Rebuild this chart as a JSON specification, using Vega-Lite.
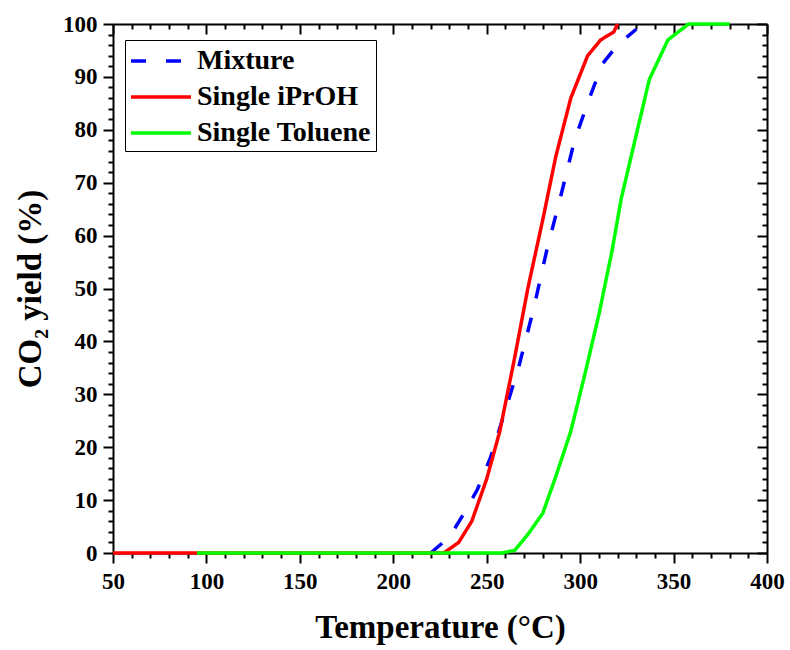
{
  "$schema": "https://vega.github.io/schema/vega-lite/v6.json",
  "width": 654,
  "height": 529,
  "autosize": "none",
  "padding": {"left": 113, "top": 24, "right": 23, "bottom": 97},
  "background": "white",
  "config": {
    "font": "Liberation Serif",
    "view": {"stroke": null},
    "axis": {
      "domainColor": "black", "domainWidth": 2,
      "tickColor": "black", "tickWidth": 2,
      "labelFont": "Liberation Serif", "labelFontWeight": "bold", "labelFontSize": 23, "labelColor": "black",
      "labelFlush": false, "labelOverlap": false,
      "titleFont": "Liberation Serif", "titleFontWeight": "bold", "titleFontSize": 33, "titleColor": "black",
      "grid": false
    },
    "legend": {
      "labelFont": "Liberation Serif", "labelFontWeight": "bold", "labelFontSize": 28, "labelColor": "black", "labelLimit": 400
    }
  },
  "data": {"values": [
    {"series": "Mixture", "temp": 220, "yield": 0},
    {"series": "Mixture", "temp": 230, "yield": 3},
    {"series": "Mixture", "temp": 237, "yield": 7},
    {"series": "Mixture", "temp": 245, "yield": 12},
    {"series": "Mixture", "temp": 252, "yield": 18},
    {"series": "Mixture", "temp": 260, "yield": 27},
    {"series": "Mixture", "temp": 267, "yield": 35},
    {"series": "Mixture", "temp": 275, "yield": 46},
    {"series": "Mixture", "temp": 282, "yield": 57},
    {"series": "Mixture", "temp": 290, "yield": 68},
    {"series": "Mixture", "temp": 297, "yield": 78},
    {"series": "Mixture", "temp": 305, "yield": 86},
    {"series": "Mixture", "temp": 312, "yield": 92.5},
    {"series": "Mixture", "temp": 320, "yield": 96},
    {"series": "Mixture", "temp": 330, "yield": 99},
    {"series": "Single iPrOH", "temp": 50, "yield": 0},
    {"series": "Single iPrOH", "temp": 227, "yield": 0},
    {"series": "Single iPrOH", "temp": 235, "yield": 2},
    {"series": "Single iPrOH", "temp": 242, "yield": 6},
    {"series": "Single iPrOH", "temp": 250, "yield": 14},
    {"series": "Single iPrOH", "temp": 257, "yield": 23},
    {"series": "Single iPrOH", "temp": 265, "yield": 37},
    {"series": "Single iPrOH", "temp": 272, "yield": 50},
    {"series": "Single iPrOH", "temp": 280, "yield": 63},
    {"series": "Single iPrOH", "temp": 287, "yield": 75},
    {"series": "Single iPrOH", "temp": 295, "yield": 86},
    {"series": "Single iPrOH", "temp": 304, "yield": 94},
    {"series": "Single iPrOH", "temp": 311, "yield": 97},
    {"series": "Single iPrOH", "temp": 318, "yield": 98.5},
    {"series": "Single iPrOH", "temp": 320, "yield": 100},
    {"series": "Single Toluene", "temp": 95, "yield": 0},
    {"series": "Single Toluene", "temp": 258, "yield": 0},
    {"series": "Single Toluene", "temp": 265, "yield": 0.5},
    {"series": "Single Toluene", "temp": 272, "yield": 3.5},
    {"series": "Single Toluene", "temp": 280, "yield": 7.5},
    {"series": "Single Toluene", "temp": 287, "yield": 14.5},
    {"series": "Single Toluene", "temp": 295, "yield": 23},
    {"series": "Single Toluene", "temp": 302, "yield": 33},
    {"series": "Single Toluene", "temp": 310, "yield": 45},
    {"series": "Single Toluene", "temp": 317, "yield": 57},
    {"series": "Single Toluene", "temp": 322, "yield": 67},
    {"series": "Single Toluene", "temp": 330, "yield": 79},
    {"series": "Single Toluene", "temp": 337, "yield": 89.5},
    {"series": "Single Toluene", "temp": 347, "yield": 97},
    {"series": "Single Toluene", "temp": 358, "yield": 100},
    {"series": "Single Toluene", "temp": 380, "yield": 100}
  ]},
  "layer": [
    {
      "mark": {"type": "line", "strokeWidth": 3.5},
      "encoding": {
        "x": {"field": "temp", "type": "quantitative", "scale": {"domain": [50, 400], "nice": false, "zero": false},
          "axis": {"orient": "bottom", "values": [50, 100, 150, 200, 250, 300, 350, 400], "tickSize": 10, "labelPadding": 7, "title": "Temperature (°C)", "titlePadding": 18}},
        "y": {"field": "yield", "type": "quantitative", "scale": {"domain": [0, 100], "nice": false},
          "axis": {"orient": "left", "values": [0, 10, 20, 30, 40, 50, 60, 70, 80, 90, 100], "tickSize": 10, "labelPadding": 6, "title": "CO₂ yield (%)", "titlePadding": 15}},
        "color": {"field": "series", "type": "nominal",
          "scale": {"domain": ["Mixture", "Single iPrOH", "Single Toluene"], "range": ["#0000FF", "#FF0000", "#00FF00"]},
          "legend": {"title": null, "orient": "none", "legendX": 12, "legendY": 16, "strokeColor": "black", "padding": 4, "symbolType": "M-1,0H3", "symbolStrokeWidth": 3.5, "symbolSize": 900, "rowPadding": 5, "labelOffset": 34, "labelLimit": 400}},
        "strokeDash": {"field": "series", "type": "nominal",
          "scale": {"domain": ["Mixture", "Single iPrOH", "Single Toluene"], "range": [[15, 20], [1, 0], [1, 0]]},
          "legend": {"title": null, "orient": "none", "legendX": 12, "legendY": 16, "strokeColor": "black", "padding": 4, "symbolType": "M-1,0H3", "symbolStrokeWidth": 3.5, "symbolSize": 900, "rowPadding": 5, "labelOffset": 34, "labelLimit": 400}}
      }
    },
    {
      "mark": {"type": "line", "opacity": 0},
      "encoding": {
        "x": {"field": "temp", "type": "quantitative", "scale": {"domain": [50, 400], "nice": false, "zero": false},
          "axis": {"orient": "bottom", "values": [60, 70, 80, 90, 110, 120, 130, 140, 160, 170, 180, 190, 210, 220, 230, 240, 260, 270, 280, 290, 310, 320, 330, 340, 360, 370, 380, 390], "tickSize": 5, "labels": false, "domain": false, "title": null}},
        "y": {"field": "yield", "type": "quantitative", "scale": {"domain": [0, 100], "nice": false},
          "axis": {"orient": "left", "values": [2, 4, 6, 8, 12, 14, 16, 18, 22, 24, 26, 28, 32, 34, 36, 38, 42, 44, 46, 48, 52, 54, 56, 58, 62, 64, 66, 68, 72, 74, 76, 78, 82, 84, 86, 88, 92, 94, 96, 98], "tickSize": 5, "labels": false, "domain": false, "title": null}}
      }
    },
    {
      "mark": {"type": "line", "opacity": 0},
      "encoding": {
        "x": {"field": "temp", "type": "quantitative", "scale": {"domain": [50, 400], "nice": false, "zero": false},
          "axis": {"orient": "top", "values": [50, 100, 150, 200, 250, 300, 350, 400], "tickSize": -10, "labels": false, "title": null}},
        "y": {"field": "yield", "type": "quantitative", "scale": {"domain": [0, 100], "nice": false},
          "axis": {"orient": "right", "values": [0, 10, 20, 30, 40, 50, 60, 70, 80, 90, 100], "tickSize": -10, "labels": false, "title": null}}
      }
    },
    {
      "mark": {"type": "line", "opacity": 0},
      "encoding": {
        "x": {"field": "temp", "type": "quantitative", "scale": {"domain": [50, 400], "nice": false, "zero": false},
          "axis": {"orient": "top", "values": [60, 70, 80, 90, 110, 120, 130, 140, 160, 170, 180, 190, 210, 220, 230, 240, 260, 270, 280, 290, 310, 320, 330, 340, 360, 370, 380, 390], "tickSize": -5, "labels": false, "domain": false, "title": null}},
        "y": {"field": "yield", "type": "quantitative", "scale": {"domain": [0, 100], "nice": false},
          "axis": {"orient": "right", "values": [2, 4, 6, 8, 12, 14, 16, 18, 22, 24, 26, 28, 32, 34, 36, 38, 42, 44, 46, 48, 52, 54, 56, 58, 62, 64, 66, 68, 72, 74, 76, 78, 82, 84, 86, 88, 92, 94, 96, 98], "tickSize": -5, "labels": false, "domain": false, "title": null}}
      }
    }
  ],
  "resolve": {"axis": {"x": "independent", "y": "independent"}}
}
